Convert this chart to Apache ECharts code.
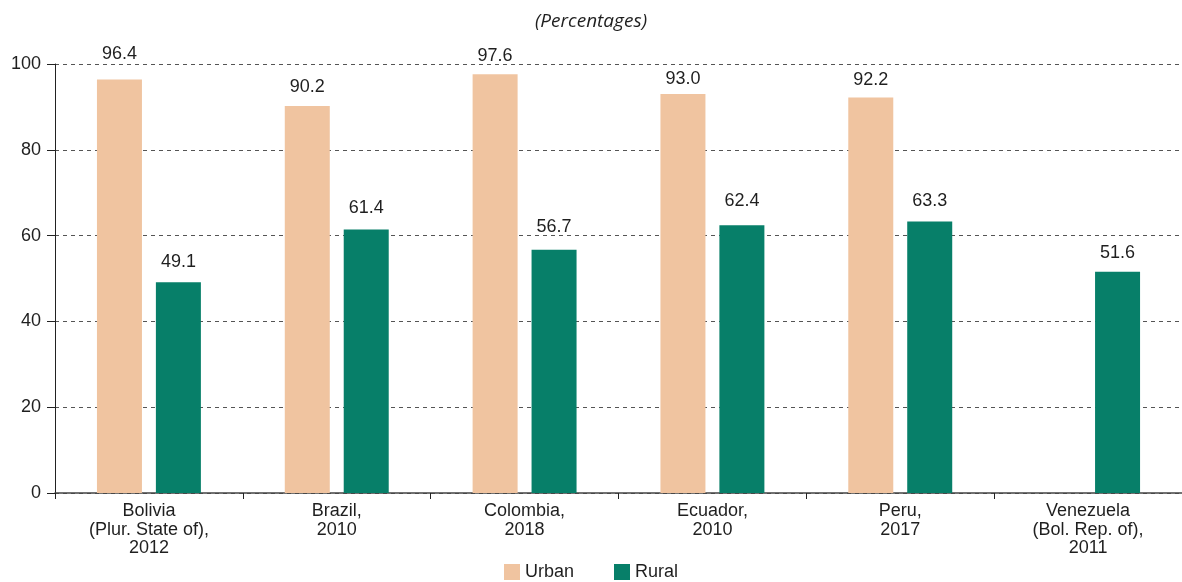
<!DOCTYPE html>
<html><head><meta charset="utf-8">
<script src="https://cdn.jsdelivr.net/npm/echarts@6/dist/echarts.min.js"></script>
<style>html,body{margin:0;padding:0;background:#fff}#c{width:1182px;height:582px}</style>
</head><body><div id="c"></div>
<script>
const categories = ['Bolivia\n(Plur. State of),\n2012','Brazil,\n2010','Colombia,\n2018','Ecuador,\n2010','Peru,\n2017','Venezuela\n(Bol. Rep. of),\n2011'];
const urban = [96.4, 90.2, 97.6, 93.0, 92.2, null];
const rural = [49.1, 61.4, 56.7, 62.4, 63.3, 51.6];
const yTicks = [0, 20, 40, 60, 80, 100];
// label spacing above each bar (style only)
const urbanLabelGap = [16, 10, 9, 6, 8, 8];
const ruralLabelGap = [11, 13, 14, 15, 11, 10];
const font = '"Liberation Sans", Arial, sans-serif';
const FS = 18;
const chart = echarts.init(document.getElementById('c'));
const fmt = v => v == null ? '' : Number(v).toFixed(1);
function build(vals, gaps) {
  return vals.map((v, i) => ({
    value: v,
    label: {show: v != null, position: 'top', distance: gaps[i], fontFamily: font, fontSize: FS, color: '#1f1f1f', formatter: p => fmt(p.value)}
  }));
}
chart.setOption({
  animation:false,
  title:{text:'(Percentages)', left:'center', top:7, textStyle:{fontFamily:'"Open Sans", "Noto Sans", sans-serif', fontStyle:'italic', fontWeight:'normal', fontSize:19, color:'#1f1f1f'}},
  grid:{left:55, right:-3, top:64, bottom:89},
  legend:{bottom:-4, left:'center', itemWidth:16, itemHeight:16, itemGap:40, icon:'rect', textStyle:{fontFamily:font, fontSize:FS, color:'#1f1f1f'}, data:['Urban','Rural']},
  xAxis:{type:'category', data:categories, axisLine:{lineStyle:{color:'#444', width:1.5}}, axisTick:{show:true, length:6, lineStyle:{color:'#222'}}, axisLabel:{fontFamily:font, fontSize:FS, color:'#1f1f1f', lineHeight:18.5, margin:9, interval:0}},
  yAxis:{type:'value', min:yTicks[0], max:yTicks[yTicks.length-1], interval:20, axisLine:{show:true, lineStyle:{color:'#222'}}, axisTick:{show:true, length:8, lineStyle:{color:'#222'}}, axisLabel:{fontFamily:font, fontSize:FS, color:'#1f1f1f', margin:14}, splitLine:{lineStyle:{type:[4,4], color:'#555'}}},
  series:[
    {name:'Urban', type:'bar', data:build(urban, urbanLabelGap), barWidth:45, barGap:'31%', itemStyle:{color:'#F0C4A0'}},
    {name:'Rural', type:'bar', data:build(rural, ruralLabelGap), barWidth:45, itemStyle:{color:'#077F69'}}
  ]
});
</script></body></html>
